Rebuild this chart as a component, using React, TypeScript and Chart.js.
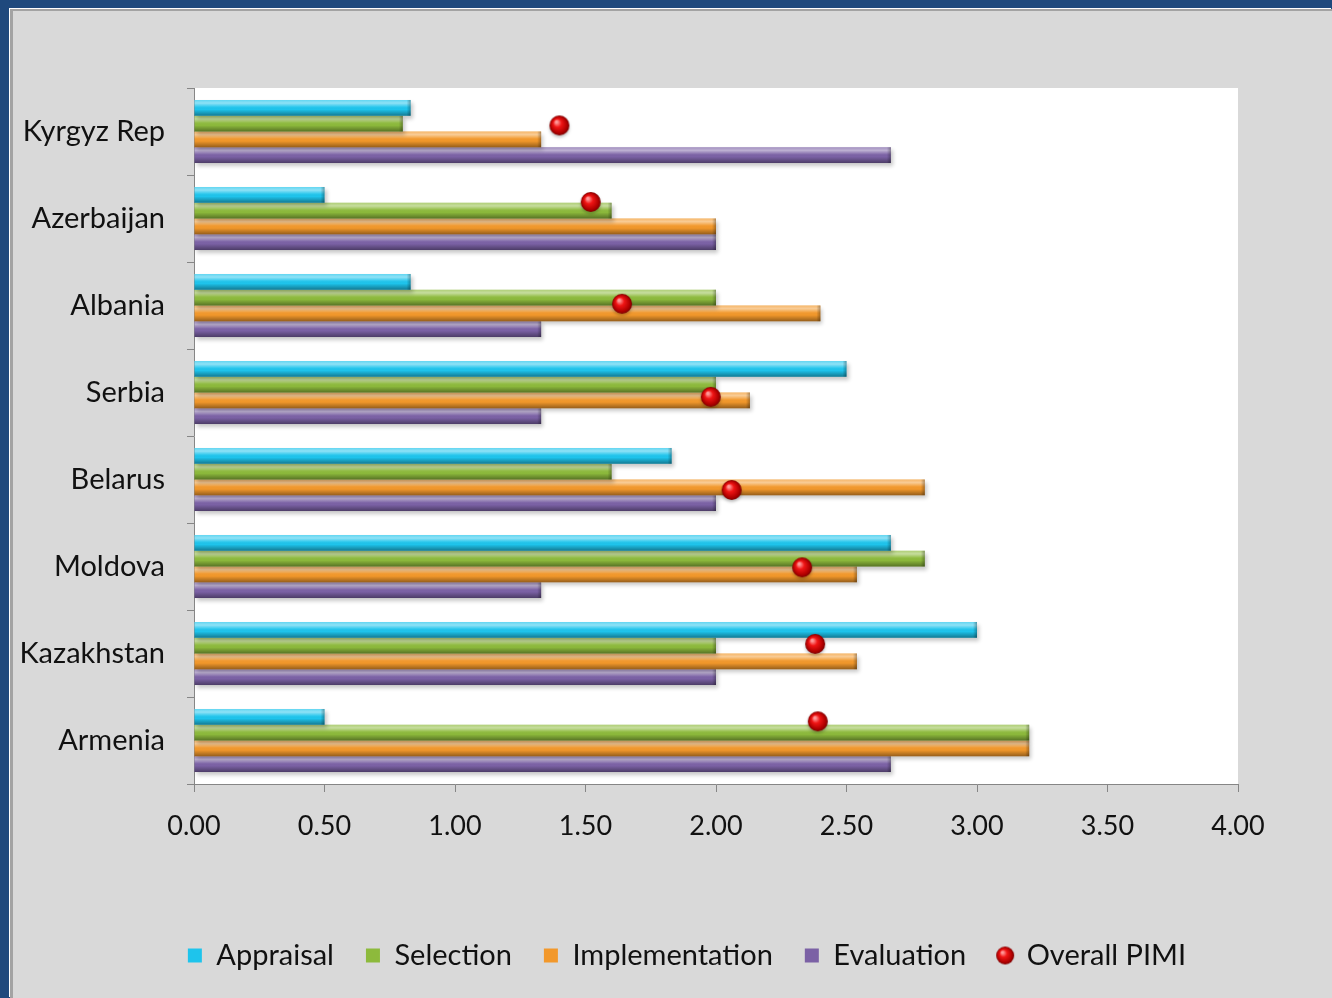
import React, { useEffect, useRef } from 'react';
import { Chart, registerables } from 'chart.js';

Chart.register(...registerables);

// ---------- data ----------
const countries = ['Kyrgyz Rep', 'Azerbaijan', 'Albania', 'Serbia', 'Belarus', 'Moldova', 'Kazakhstan', 'Armenia'];
const appraisal = [0.83, 0.5, 0.83, 2.5, 1.83, 2.67, 3.0, 0.5];
const selection = [0.8, 1.6, 2.0, 2.0, 1.6, 2.8, 2.0, 3.2];
const implementation = [1.33, 2.0, 2.4, 2.13, 2.8, 2.54, 2.54, 3.2];
const evaluation = [2.67, 2.0, 1.33, 1.33, 2.0, 1.33, 2.0, 2.67];
const overallPimi = [1.4, 1.52, 1.64, 1.98, 2.06, 2.33, 2.38, 2.39];
// vertical placement of each Overall PIMI marker, in category-row units (0 = top edge of first row)
const overallRowPos = [0.43, 1.31, 2.48, 3.55, 4.62, 5.51, 6.39, 7.28];
const seriesNames = ['Appraisal', 'Selection', 'Implementation', 'Evaluation', 'Overall PIMI'];
const xMin = 0;
const xMax = 4;
const xStep = 0.5;

const barColors = ['#1ec4ec', '#8dba3c', '#f2982b', '#7b61a5'];

function makeSphere(size: number): HTMLCanvasElement {
  const c = document.createElement('canvas');
  c.width = size;
  c.height = size;
  const g = c.getContext('2d')!;
  const r = size / 2 - 1;
  const cx = size / 2;
  const cy = size / 2;
  const grad = g.createRadialGradient(cx - r * 0.3, cy - r * 0.35, r * 0.1, cx, cy, r);
  grad.addColorStop(0, '#ff9a9a');
  grad.addColorStop(0.35, '#f01515');
  grad.addColorStop(0.8, '#b00000');
  grad.addColorStop(1, '#7a0000');
  g.beginPath();
  g.arc(cx, cy, r, 0, Math.PI * 2);
  g.fillStyle = grad;
  g.fill();
  return c;
}

const barShading = {
  id: 'barShading',
  afterLayout(chart: any) {
    // legend in the reference sits right of the canvas centre
    if (chart.legend) {
      chart.legend.left += 63;
      chart.legend.right += 63;
    }
  },
  beforeDraw(chart: any) {
    const { ctx, chartArea } = chart;
    ctx.save();
    ctx.fillStyle = '#ffffff';
    ctx.fillRect(chartArea.left, chartArea.top, chartArea.right - chartArea.left, chartArea.bottom - chartArea.top);
    ctx.restore();
  },
  beforeDatasetDraw(chart: any, args: any) {
    const ctx = chart.ctx;
    ctx.save();
    if (args.meta.type === 'bar') {
      ctx.shadowColor = 'rgba(0,0,0,0.22)';
      ctx.shadowOffsetY = 3;
      ctx.shadowOffsetX = 2;
      ctx.shadowBlur = 4;
    } else {
      ctx.shadowColor = 'rgba(0,0,0,0.25)';
      ctx.shadowOffsetY = 2;
      ctx.shadowBlur = 3;
    }
  },
  afterDatasetDraw(chart: any, args: any) {
    const ctx = chart.ctx;
    ctx.restore();
    if (args.meta.type !== 'bar') return;
    for (const el of args.meta.data) {
      const p = el.getProps(['x', 'y', 'base', 'height'], true);
      const top = p.y - p.height / 2;
      const left = Math.min(p.base, p.x);
      const w = Math.abs(p.x - p.base);
      const g = ctx.createLinearGradient(0, top, 0, top + p.height);
      g.addColorStop(0, 'rgba(255,255,255,0.3)');
      g.addColorStop(0.2, 'rgba(255,255,255,0.5)');
      g.addColorStop(0.45, 'rgba(255,255,255,0.05)');
      g.addColorStop(0.6, 'rgba(0,0,0,0)');
      g.addColorStop(1, 'rgba(0,0,0,0.38)');
      ctx.save();
      ctx.fillStyle = g;
      ctx.fillRect(left, top, w, p.height);
      const eg = ctx.createLinearGradient(left + w - 4, 0, left + w, 0);
      eg.addColorStop(0, 'rgba(0,0,0,0)');
      eg.addColorStop(1, 'rgba(0,0,0,0.3)');
      ctx.fillStyle = eg;
      ctx.fillRect(left + w - 4, top, 4, p.height);
      ctx.restore();
    }
  },
};

export default function App() {
  const ref = useRef<HTMLCanvasElement | null>(null);

  useEffect(() => {
    let chart: Chart | null = null;
    let cancelled = false;
    const build = () => {
      if (cancelled || !ref.current) return;
      const dot = makeSphere(22);
      const legendDot = makeSphere(20);
      const tickFont = { family: 'Lato', size: 27 };
      const catFont = { family: 'Lato', size: 29 };
      const legendFont = { family: 'Lato', size: 29 };
      const barSets = [appraisal, selection, implementation, evaluation].map((d, i) => ({
        type: 'bar' as const,
        label: seriesNames[i],
        data: d,
        backgroundColor: barColors[i],
        borderWidth: 0,
        categoryPercentage: 0.725,
        barPercentage: 1.0,
        yAxisID: 'y',
        xAxisID: 'x',
        order: 1,
      }));
      // scatter uses the same category axis; internal value (row index, fractional) given directly
      const scatterSet: any = {
        type: 'scatter' as const,
        label: seriesNames[4],
        parsing: false,
        data: overallPimi.map((v, i) => ({ x: v, y: overallRowPos[i] - 0.5 })),
        pointStyle: dot,
        backgroundColor: '#e01010',
        borderWidth: 0,
        pointRadius: 10,
        showLine: false,
        xAxisID: 'x',
        yAxisID: 'y',
        order: -1,
      };
      chart = new Chart(ref.current, {
        type: 'bar',
        data: { labels: countries, datasets: [...barSets, scatterSet] as any },
        plugins: [barShading],
        options: {
          indexAxis: 'y',
          responsive: false,
          animation: false,
          devicePixelRatio: 1,
          layout: { padding: { left: 0, right: 94, top: 80, bottom: 18 } },
          scales: {
            x: {
              type: 'linear',
              min: xMin,
              max: xMax,
              position: 'bottom',
              ticks: {
                stepSize: xStep,
                font: tickFont,
                color: '#111111',
                padding: 18,
                callback: (v: any) => Number(v).toFixed(2),
              },
              grid: { display: true, drawOnChartArea: false, drawTicks: true, tickLength: 8, color: '#868686' },
              border: { display: true, color: '#868686', width: 1 },
              afterFit: (s: any) => {
                s.height = 125;
              },
            },
            y: {
              type: 'category',
              position: 'left',
              offset: true,
              ticks: { font: catFont, color: '#111111', padding: 22, autoSkip: false },
              grid: { display: true, drawOnChartArea: false, drawTicks: true, tickLength: 7, offset: true, color: '#868686' },
              border: { display: true, color: '#868686', width: 1 },
              afterFit: (s: any) => {
                s.width = 184;
              },
            },
          },
          plugins: {
            tooltip: { enabled: false },
            legend: {
              position: 'bottom',
              labels: {
                font: legendFont,
                color: '#111111',
                usePointStyle: true,
                boxWidth: 14,
                boxHeight: 14,
                padding: 32,
                sort: (a: any, b: any) => a.datasetIndex - b.datasetIndex,
                generateLabels: (c: any) => {
                  const items = (Chart.defaults.plugins.legend.labels as any).generateLabels(c);
                  items.forEach((it: any) => {
                    it.lineWidth = 0;
                    it.pointStyle = it.datasetIndex === 4 ? legendDot : 'rect';
                  });
                  return items;
                },
              },
            },
          },
        } as any,
      });
    };
    const p = (document as any).fonts ? (document as any).fonts.load('27px Lato') : Promise.resolve();
    p.then(build, build);
    return () => {
      cancelled = true;
      if (chart) chart.destroy();
    };
  }, []);

  return (
    <div style={{ position: 'fixed', left: 0, top: 0, width: 1332, height: 998, background: '#1f497d', overflow: 'hidden' }}>
      <div
        style={{
          position: 'absolute',
          left: 10,
          top: 9,
          right: 0,
          bottom: 0,
          background: '#d9d9d9',
          borderLeft: '3px solid #a3a3a3',
          borderTop: '2px solid #a3a3a3',
          boxShadow: '-1px -1px 0 #ffffff',
        }}
      />
      <canvas ref={ref} width={1322} height={990} style={{ position: 'absolute', left: 10, top: 8, width: 1322, height: 990 }} />
    </div>
  );
}
